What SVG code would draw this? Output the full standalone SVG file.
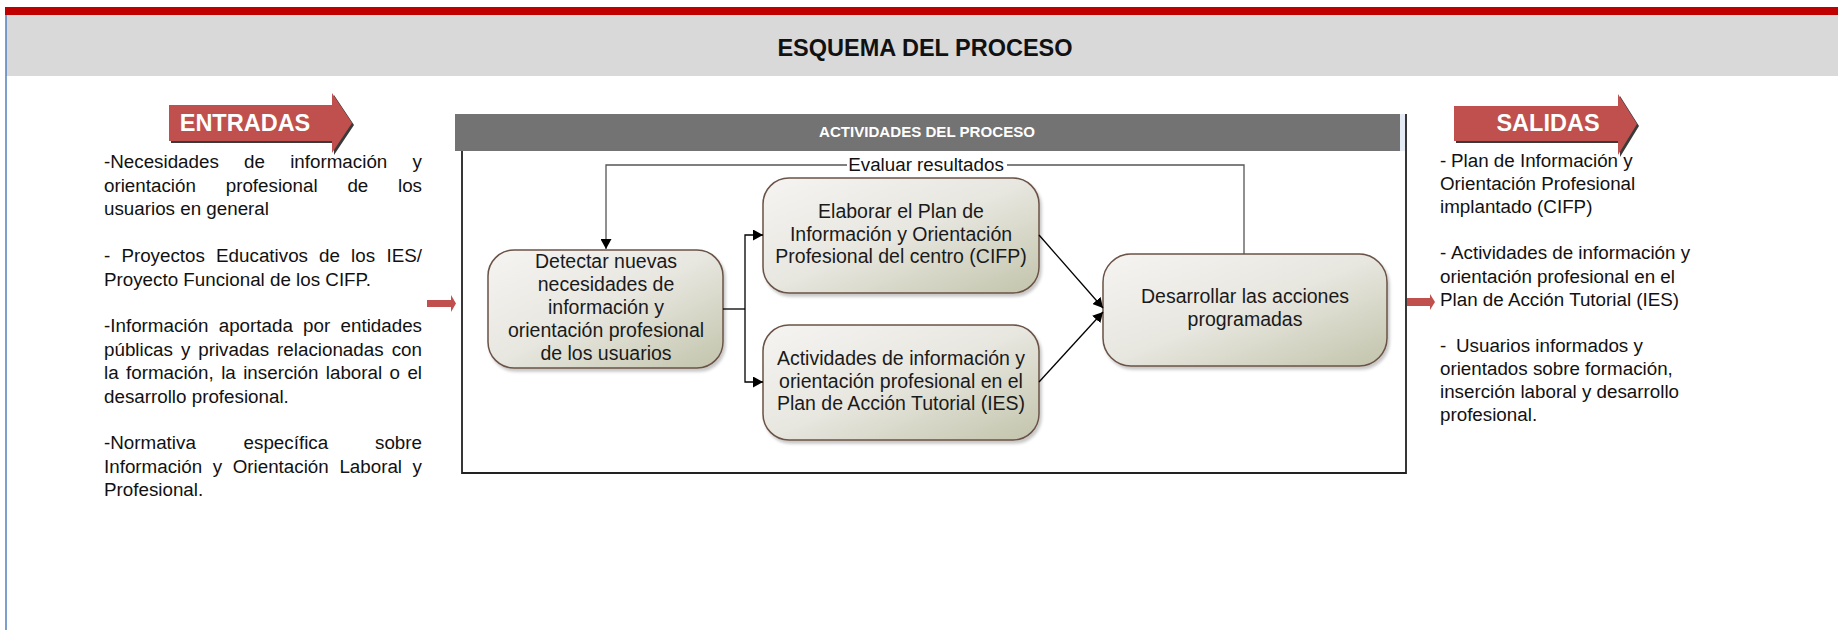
<svg xmlns="http://www.w3.org/2000/svg" width="1838" height="630" viewBox="0 0 1838 630">
<style>
.body{font-family:"Liberation Sans",Arial,sans-serif;font-size:18.8px;fill:#111}
.node{font-family:"Liberation Sans",Arial,sans-serif;font-size:19.5px;fill:#1a1a1a;text-anchor:middle}
.box{fill:url(#ng);stroke:#6b5246;stroke-width:1.5;filter:url(#sh)}
.big{font-family:"Liberation Sans",Arial,sans-serif;font-weight:bold;font-size:23.5px;fill:#fff;text-anchor:middle}
.conn{fill:none;stroke:#000;stroke-width:1.3}
.fb{fill:none;stroke:#555;stroke-width:1.3}
.redarrow{fill:#c0504d}
</style>
<defs>
<linearGradient id="ng" x1="0" y1="0" x2="1" y2="1">
<stop offset="0" stop-color="#f5f4f2"/>
<stop offset="0.5" stop-color="#e7e6df"/>
<stop offset="1" stop-color="#c2c4ab"/>
</linearGradient>
<filter id="sh" x="-5%" y="-5%" width="115%" height="125%">
<feDropShadow dx="2" dy="3" stdDeviation="1.5" flood-color="#000" flood-opacity="0.22"/>
</filter>
<marker id="ah" markerWidth="11" markerHeight="11" refX="10" refY="5.5" orient="auto" markerUnits="userSpaceOnUse">
<path d="M0,0 L10,5.5 L0,11 z" fill="#000"/>
</marker>
</defs>

<!-- page frame -->
<rect x="0" y="0" width="1838" height="630" fill="#fff"/>
<rect x="5" y="7" width="1833" height="8" fill="#c00000"/>
<rect x="6" y="15" width="1832" height="61" fill="#d9d9d9"/>
<line x1="6" y1="15" x2="6" y2="630" stroke="#4f81bd" stroke-width="1.5"/>
<text x="925" y="56" style="font-family:'Liberation Sans',Arial,sans-serif;font-weight:bold;font-size:23.5px;fill:#111;text-anchor:middle">ESQUEMA DEL PROCESO</text>

<!-- ENTRADAS -->
<g id="entradas">
<polygon points="171,107 334,107 334,95 354,125 334,155 334,143 171,143" fill="#3a3a3a"/>
<polygon class="redarrow" points="169,105 332,105 332,93 352,123 332,153 332,141 169,141"/>
<text class="big" x="245" y="131">ENTRADAS</text>
</g>

<!-- SALIDAS -->
<g id="salidas">
<polygon points="1456,108 1620,108 1620,96 1639,126 1620,157 1620,143 1456,143" fill="#3a3a3a"/>
<polygon class="redarrow" points="1454,106 1618,106 1618,94 1637,124 1618,155 1618,141 1454,141"/>
<text class="big" x="1548" y="131">SALIDAS</text>
</g>

<!-- Input text -->
<g id="inputs-text">
<text class="body" y="168"><tspan x="104">-Necesidades</tspan><tspan x="244.1">de</tspan><tspan x="290.2">información</tspan><tspan x="422" text-anchor="end">y</tspan></text>
<text class="body" y="191.5"><tspan x="104">orientación</tspan><tspan x="225.7">profesional</tspan><tspan x="347.4">de</tspan><tspan x="422" text-anchor="end">los</tspan></text>
<text class="body" x="104" y="215">usuarios en general</text>
<text class="body" y="262"><tspan x="104">-</tspan><tspan x="121.4">Proyectos</tspan><tspan x="216.1">Educativos</tspan><tspan x="319.1">de</tspan><tspan x="351.1">los</tspan><tspan x="422" text-anchor="end">IES/</tspan></text>
<text class="body" x="104" y="285.5">Proyecto Funcional de los CIFP.</text>
<text class="body" y="332"><tspan x="104">-Información</tspan><tspan x="218.7">aportada</tspan><tspan x="303.1">por</tspan><tspan x="422" text-anchor="end">entidades</tspan></text>
<text class="body" y="355.5"><tspan x="104">públicas</tspan><tspan x="180.9">y</tspan><tspan x="198.2">privadas</tspan><tspan x="277.1">relacionadas</tspan><tspan x="422" text-anchor="end">con</tspan></text>
<text class="body" y="379"><tspan x="104">la</tspan><tspan x="126">formación,</tspan><tspan x="221.2">la</tspan><tspan x="243.2">inserción</tspan><tspan x="325.8">laboral</tspan><tspan x="389.6">o</tspan><tspan x="422" text-anchor="end">el</tspan></text>
<text class="body" x="104" y="402.5">desarrollo profesional.</text>
<text class="body" y="449"><tspan x="104">-Normativa</tspan><tspan x="243.6">específica</tspan><tspan x="422" text-anchor="end">sobre</tspan></text>
<text class="body" y="472.5"><tspan x="104">Información</tspan><tspan x="212.8">y</tspan><tspan x="232.7">Orientación</tspan><tspan x="339.4">Laboral</tspan><tspan x="422" text-anchor="end">y</tspan></text>
<text class="body" x="104" y="496">Profesional.</text>
</g>

<!-- Output text -->
<g id="outputs-text">
<text class="body" y="167"><tspan x="1440">-</tspan><tspan x="1451">Plan de Información y</tspan></text>
<text class="body" x="1440" y="190">Orientación Profesional</text>
<text class="body" x="1440" y="213">implantado (CIFP)</text>
<text class="body" y="259"><tspan x="1440">-</tspan><tspan x="1451">Actividades de información y</tspan></text>
<text class="body" x="1440" y="282.5">orientación profesional en el</text>
<text class="body" x="1440" y="305.5">Plan de Acción Tutorial (IES)</text>
<text class="body" y="352"><tspan x="1440">-</tspan><tspan x="1456">Usuarios informados y</tspan></text>
<text class="body" x="1440" y="375">orientados sobre formación,</text>
<text class="body" x="1440" y="398">inserción laboral y desarrollo</text>
<text class="body" x="1440" y="421">profesional.</text>
</g>

<!-- small red flow arrows -->
<g id="in-arrow"><polygon class="redarrow" points="427,300 451,300 451,295 456,303.5 451,312 451,307 427,307"/></g>
<g id="out-arrow"><polygon class="redarrow" points="1407,298 1430,298 1430,294 1435,302 1430,310 1430,306 1407,306"/></g>

<!-- Process container -->
<g id="process-container">
<rect x="455" y="114" width="945" height="37" fill="#737373"/>
<rect x="1400" y="114" width="5" height="37" fill="#e4ebf5"/>
<path d="M462,151 V473 H1406 V114" fill="none" stroke="#222" stroke-width="1.8"/>
<text x="927" y="137" textLength="216" lengthAdjust="spacingAndGlyphs" style="font-family:'Liberation Sans',Arial,sans-serif;font-weight:bold;font-size:14.5px;fill:#fff;text-anchor:middle">ACTIVIDADES DEL PROCESO</text>
</g>

<!-- Nodes -->
<g id="node-detectar">
<rect class="box" x="488" y="250" width="235" height="118" rx="26" ry="26"/>
<text class="node"><tspan x="606" y="268">Detectar nuevas</tspan><tspan x="606" y="291">necesidades de</tspan><tspan x="606" y="314">información y</tspan><tspan x="606" y="337">orientación profesional</tspan><tspan x="606" y="360">de los usuarios</tspan></text>
</g>
<g id="node-elaborar">
<rect class="box" x="763" y="178" width="276" height="115" rx="26" ry="26"/>
<text class="node"><tspan x="901" y="218">Elaborar el Plan de</tspan><tspan x="901" y="240.5">Información y Orientación</tspan><tspan x="901" y="263">Profesional del centro (CIFP)</tspan></text>
</g>
<g id="node-actividades">
<rect class="box" x="763" y="325" width="276" height="115" rx="26" ry="26"/>
<text class="node"><tspan x="901" y="365">Actividades de información y</tspan><tspan x="901" y="387.5">orientación profesional en el</tspan><tspan x="901" y="410">Plan de Acción Tutorial (IES)</tspan></text>
</g>
<g id="node-desarrollar">
<rect class="box" x="1103" y="254" width="284" height="112" rx="28" ry="28"/>
<text class="node"><tspan x="1245" y="303">Desarrollar las acciones</tspan><tspan x="1245" y="326">programadas</tspan></text>
</g>

<!-- Connectors -->
<g id="connectors">
<path class="fb" d="M1244,254 V165 H1007"/>
<path class="fb" d="M847,165 H606 V249" marker-end="url(#ah)"/>
<text x="926" y="171" style="font-family:'Liberation Sans',Arial,sans-serif;font-size:18.8px;fill:#111;text-anchor:middle">Evaluar resultados</text>
<path class="conn" d="M723,309 H745"/>
<path class="conn" d="M745,309 V235 H763" marker-end="url(#ah)"/>
<path class="conn" d="M745,309 V382 H763" marker-end="url(#ah)"/>
<path class="conn" d="M1039,235 L1103,308" marker-end="url(#ah)"/>
<path class="conn" d="M1039,382 L1103,312" marker-end="url(#ah)"/>
</g>
</svg>
